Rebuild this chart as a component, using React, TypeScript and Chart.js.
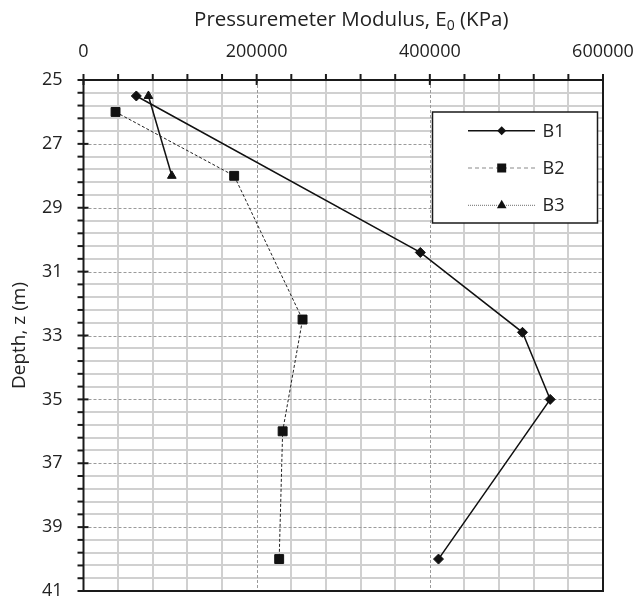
import React, { useEffect, useRef } from 'react';
import { Chart, registerables } from 'chart.js';

Chart.register(...registerables);

// ---- data ----
const seriesNames = ['B1', 'B2', 'B3'];
const b1Modulus = [61000, 389000, 507000, 539000, 410000];
const b1Depth = [25.5, 30.4, 32.9, 35.0, 40.0];
const b2Modulus = [37000, 174000, 253000, 230000, 226000];
const b2Depth = [26.0, 28.0, 32.5, 36.0, 40.0];
const b3Modulus = [75000, 102000];
const b3Depth = [25.5, 28.0];

const xTickValues = [0, 200000, 400000, 600000];
const yTickValues = [25, 27, 29, 31, 33, 35, 37, 39, 41];
const xMinorStep = 40000;
const yMinorStep = 0.4;

const xTitleMain = 'Pressuremeter Modulus, E';
const xTitleSub = '0';
const xTitleTail = ' (KPa)';
const yTitle = 'Depth, z (m)';

const FONT = "'Open Sans', 'DejaVu Sans', sans-serif";
const TEXT = '#222222';

function toPoints(xs: number[], ys: number[]) {
  return xs.map((x, i) => ({ x, y: ys[i] }));
}

const gridAxesPlugin = {
  id: 'gridAxes',
  beforeDatasetsDraw(chart: any) {
    const { ctx, chartArea } = chart;
    const xs = chart.scales.x;
    const ys = chart.scales.y;
    const { left, right, top, bottom } = chartArea;
    ctx.save();
    // minor grid
    ctx.strokeStyle = '#d0d0d0';
    ctx.lineWidth = 2;
    ctx.setLineDash([]);
    const xMin = xs.min, xMax = xs.max, yMin = ys.min, yMax = ys.max;
    const nx = Math.round((xMax - xMin) / xMinorStep);
    for (let i = 1; i < nx; i++) {
      const v = xMin + i * xMinorStep;
      if (xTickValues.includes(v)) continue;
      const p = Math.round(xs.getPixelForValue(v));
      ctx.beginPath();
      ctx.moveTo(p, top);
      ctx.lineTo(p, bottom);
      ctx.stroke();
    }
    const ny = Math.round((yMax - yMin) / yMinorStep);
    for (let i = 1; i < ny; i++) {
      const v = yMin + i * yMinorStep;
      if (yTickValues.some((t) => Math.abs(t - v) < 1e-6)) continue;
      const p = Math.round(ys.getPixelForValue(v));
      ctx.beginPath();
      ctx.moveTo(left, p);
      ctx.lineTo(right, p);
      ctx.stroke();
    }
    // major grid (dashed)
    ctx.strokeStyle = '#9a9a9a';
    ctx.lineWidth = 1;
    ctx.setLineDash([3, 2]);
    xTickValues.forEach((v) => {
      if (v === xMin || v === xMax) return;
      const p = Math.round(xs.getPixelForValue(v)) + 0.5;
      ctx.beginPath();
      ctx.moveTo(p, top);
      ctx.lineTo(p, bottom);
      ctx.stroke();
    });
    yTickValues.forEach((v) => {
      if (v === yMin || v === yMax) return;
      const p = Math.round(ys.getPixelForValue(v)) + 0.5;
      ctx.beginPath();
      ctx.moveTo(left, p);
      ctx.lineTo(right, p);
      ctx.stroke();
    });
    ctx.setLineDash([]);
    // frame
    ctx.strokeStyle = '#1a1a1a';
    ctx.lineWidth = 2;
    ctx.strokeRect(left, top, right - left, bottom - top);
    // x ticks (top)
    for (let i = 0; i <= nx; i++) {
      const v = xMin + i * xMinorStep;
      const p = xs.getPixelForValue(v);
      const major = xTickValues.includes(v);
      ctx.beginPath();
      ctx.moveTo(p, top - 6);
      ctx.lineTo(p, major ? top + 5 : top);
      ctx.stroke();
    }
    // y ticks (left)
    for (let i = 0; i <= ny; i++) {
      const v = yMin + i * yMinorStep;
      const p = ys.getPixelForValue(v);
      const major = yTickValues.some((t) => Math.abs(t - v) < 1e-6);
      ctx.beginPath();
      ctx.moveTo(left - 6, p);
      ctx.lineTo(major ? left + 5 : left, p);
      ctx.stroke();
    }
    ctx.restore();
  },
  afterDraw(chart: any) {
    const { ctx, chartArea } = chart;
    ctx.save();
    // x axis title with subscript
    ctx.fillStyle = TEXT;
    ctx.textBaseline = 'alphabetic';
    ctx.textAlign = 'left';
    const mainFont = `20.5px ${FONT}`;
    const subFont = `14px ${FONT}`;
    ctx.font = mainFont;
    const w1 = ctx.measureText(xTitleMain).width;
    const w3 = ctx.measureText(xTitleTail).width;
    ctx.font = subFont;
    const w2 = ctx.measureText(xTitleSub).width;
    const total = w1 + w2 + w3;
    const cx = (chartArea.left + chartArea.right) / 2 + 8;
    let x = cx - total / 2;
    const base = 26;
    ctx.font = mainFont;
    ctx.fillText(xTitleMain, x, base);
    x += w1;
    ctx.font = subFont;
    ctx.fillText(xTitleSub, x, base + 4);
    x += w2;
    ctx.font = mainFont;
    ctx.fillText(xTitleTail, x, base);

    // legend
    const bx = 432.5, by = 112, bw = 165, bh = 111;
    ctx.fillStyle = '#ffffff';
    ctx.fillRect(bx, by, bw, bh);
    ctx.strokeStyle = '#1a1a1a';
    ctx.lineWidth = 1.5;
    ctx.strokeRect(bx, by, bw, bh);
    const rows = [130.7, 168, 205.3];
    const lineStyles = [
      { color: '#111111', dash: [] as number[], width: 1.5 },
      { color: '#8a8a8a', dash: [4, 3], width: 1.2 },
      { color: '#8a8a8a', dash: [1, 1], width: 1.2 },
    ];
    chart.data.datasets.forEach((ds: any, i: number) => {
      const y = rows[i];
      const st = lineStyles[i];
      ctx.strokeStyle = st.color;
      ctx.lineWidth = st.width;
      ctx.setLineDash(st.dash);
      ctx.beginPath();
      ctx.moveTo(468, y);
      ctx.lineTo(535, y);
      ctx.stroke();
      ctx.setLineDash([]);
      const mx = 501.7;
      ctx.fillStyle = '#111111';
      ctx.beginPath();
      if (i === 0) {
        ctx.moveTo(mx - 4.5, y);
        ctx.lineTo(mx, y - 4.5);
        ctx.lineTo(mx + 4.5, y);
        ctx.lineTo(mx, y + 4.5);
      } else if (i === 1) {
        ctx.rect(mx - 4.5, y - 4.5, 9, 9);
      } else {
        ctx.moveTo(mx, y - 5.5);
        ctx.lineTo(mx + 4.8, y + 3);
        ctx.lineTo(mx - 4.8, y + 3);
      }
      ctx.closePath();
      ctx.fill();
      ctx.fillStyle = TEXT;
      ctx.font = `18px ${FONT}`;
      ctx.textBaseline = 'middle';
      ctx.fillText(ds.label, 542.5, y + 1);
    });
    ctx.restore();
  },
};

function zeroPadding(scale: any) {
  scale.paddingLeft = 0;
  scale.paddingRight = 0;
  scale.paddingTop = 0;
  scale.paddingBottom = 0;
}

export default function App() {
  const ref = useRef<HTMLCanvasElement | null>(null);

  useEffect(() => {
    if (!ref.current) return;
    const chart = new Chart(ref.current, {
      type: 'line',
      data: {
        datasets: [
          {
            label: seriesNames[0],
            data: toPoints(b1Modulus, b1Depth),
            borderColor: '#111111',
            backgroundColor: '#111111',
            borderWidth: 1.5,
            pointStyle: 'rectRot',
            pointRadius: 5,
            pointBorderWidth: 1,
            pointBackgroundColor: '#111111',
            pointBorderColor: '#111111',
          },
          {
            label: seriesNames[1],
            data: toPoints(b2Modulus, b2Depth),
            borderColor: '#222222',
            backgroundColor: '#111111',
            borderWidth: 1,
            borderDash: [3, 2],
            pointStyle: 'rect',
            pointRadius: 6.3,
            pointBorderWidth: 1,
            pointBackgroundColor: '#111111',
            pointBorderColor: '#111111',
          },
          {
            label: seriesNames[2],
            data: toPoints(b3Modulus, b3Depth),
            borderColor: '#111111',
            backgroundColor: '#111111',
            borderWidth: 1.5,
            pointStyle: 'triangle',
            pointRadius: 5,
            pointBorderWidth: 1,
            pointBackgroundColor: '#111111',
            pointBorderColor: '#111111',
          },
        ],
      },
      options: {
        animation: false,
        responsive: false,
        maintainAspectRatio: false,
        layout: { padding: { left: 0, top: 0, right: 33, bottom: 10 } },
        plugins: {
          legend: { display: false },
          tooltip: { enabled: false },
        },
        scales: {
          x: {
            type: 'linear',
            position: 'top',
            min: 0,
            max: 600000,
            grid: { display: false, drawTicks: false },
            border: { display: false },
            afterBuildTicks: (scale: any) => {
              scale.ticks = xTickValues.map((v) => ({ value: v }));
            },
            afterFit: (scale: any) => {
              scale.height = 80;
              zeroPadding(scale);
            },
            ticks: {
              padding: 17,
              color: TEXT,
              font: { family: FONT, size: 18 },
              maxRotation: 0,
              autoSkip: false,
              callback: (v: any) => String(v),
            },
          },
          y: {
            type: 'linear',
            reverse: true,
            min: 25,
            max: 41,
            grid: { display: false, drawTicks: false },
            border: { display: false },
            afterBuildTicks: (scale: any) => {
              scale.ticks = yTickValues.map((v) => ({ value: v }));
            },
            afterFit: (scale: any) => {
              scale.width = 83.5;
              zeroPadding(scale);
            },
            ticks: {
              padding: 21,
              color: TEXT,
              font: { family: FONT, size: 18 },
              autoSkip: false,
              callback: (v: any) => String(v),
            },
            title: {
              display: true,
              text: yTitle,
              color: TEXT,
              font: { family: FONT, size: 19 },
              padding: { top: 8, bottom: 0 },
            },
          },
        },
      },
      plugins: [gridAxesPlugin],
    });
    return () => chart.destroy();
  }, []);

  return (
    <div style={{ position: 'absolute', left: 0, top: 0, width: 636, height: 601, background: '#fff' }}>
      <canvas ref={ref} width={636} height={601} style={{ display: 'block' }} />
    </div>
  );
}
